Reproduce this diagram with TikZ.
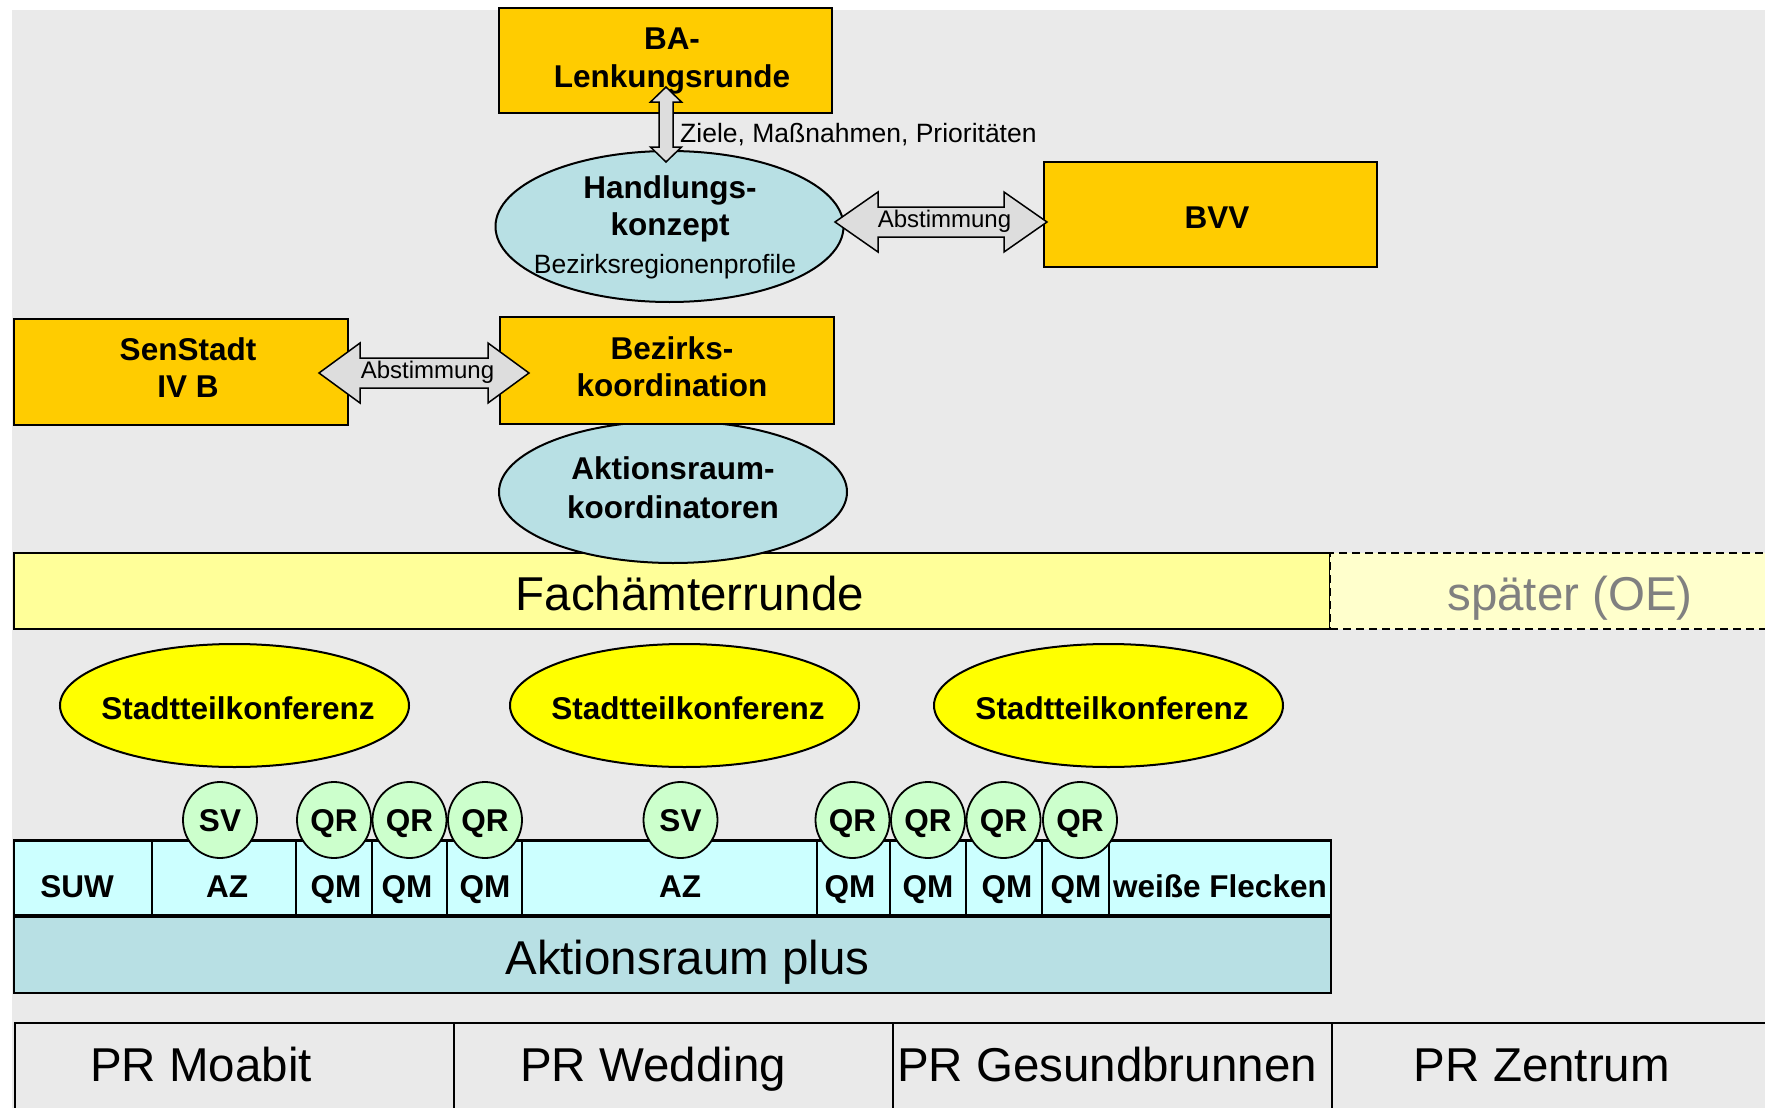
\documentclass[tikz,border=0pt]{standalone}
\usepackage{fontspec}
\setmainfont{Liberation Sans}
\usetikzlibrary{shapes.geometric,calc}
\definecolor{bgc}{HTML}{EAEAEA}
\definecolor{orng}{HTML}{FFCC00}
\definecolor{teal}{HTML}{B8E0E4}
\definecolor{fachc}{HTML}{FFFF99}
\definecolor{spaetc}{HTML}{FFFFCC}
\definecolor{stadtc}{HTML}{FFFF00}
\definecolor{circc}{HTML}{CCFFCC}
\definecolor{stripc}{HTML}{CCFFFF}
\definecolor{arrg}{HTML}{DDDDDD}
\definecolor{greytxt}{HTML}{808080}
\newcommand\fntB{\fontsize{31.5}{38.5}\selectfont\bfseries}
\newcommand\fntL{\fontsize{47.5}{55}\selectfont}
\newcommand\fntS{\fontsize{26.5}{30}\selectfont}
\newcommand\fntA{\fontsize{24}{28}\selectfont}
\begin{document}
\begin{tikzpicture}[x=1pt,y=-1pt,
  box/.style={draw=black,line width=2pt,fill=orng,inner sep=0pt},
  ell/.style={ellipse,draw=black,line width=2pt,inner sep=0pt},
  bar/.style={draw=black,line width=2pt,inner sep=0pt},
  blk/.style={draw=black,line width=1.5pt,fill=arrg,line join=miter},
  cell/.style={draw=black,line width=1.2pt,fill=stripc,minimum height=75pt,inner sep=0pt},
  prcell/.style={draw=black,line width=1.5pt,fill=bgc,minimum height=107pt,inner sep=0pt},
  small/.style={ellipse,draw=black,line width=1.8pt,fill=circc,minimum width=74pt,minimum height=76pt,inner sep=0pt},
  btxt/.style={font=\fntB,inner sep=0pt,anchor=base},
  ltxt/.style={font=\fntL,inner sep=0pt,anchor=base},
  stxt/.style={font=\fntS,inner sep=0pt,anchor=base},
  atxt/.style={font=\fntA,inner sep=0pt,anchor=base}]
\useasboundingbox (0,0) rectangle (1765,1108);
\clip (0,0) rectangle (1765,1108);
\fill[bgc] (12,10) rectangle (1765,1108);

% Planungsraeume
\node[prcell,minimum width=439pt] (pr1) at (234.5,1076.5) {};
\node[prcell,minimum width=439pt] (pr2) at (673.5,1076.5) {};
\node[prcell,minimum width=439pt] (pr3) at (1112.5,1076.5) {};
\node[prcell,minimum width=448pt] (pr4) at (1556,1076.5) {};
\node[ltxt] (prt1) at (201,1081) {PR Moabit};
\node[ltxt] (prt2) at (653,1081) {PR Wedding};
\node[ltxt] (prt3) at (1107,1081) {PR Gesundbrunnen};
\node[ltxt] (prt4) at (1542,1081) {PR Zentrum};

% Fachaemterrunde
\node[bar,fill=fachc,minimum width=1316pt,minimum height=76pt] (fr) at (672,591) {};
\node[ltxt] (frt) at (690,610) {Fachämterrunde};
\node[bar,fill=spaetc,dash pattern=on 8pt off 5pt,line width=1.8pt,minimum width=445pt,minimum height=76pt] (sp) at (1552.5,591) {};
\node[ltxt,text=greytxt] (spt) at (1570,610) {später (OE)};

% Aktionsraumkoordinatoren
\node[ell,fill=teal,minimum width=348pt,minimum height=142pt] (ak) at (673,492) {};
\node[btxt] (akt1) at (673,479.6) {Aktionsraum-};
\node[btxt] (akt2) at (673,518) {koordinatoren};

% Boxes
\node[box,minimum width=333pt,minimum height=105pt] (ba) at (665.5,60.5) {};
\node[btxt] (bat1) at (672,49.6) {BA-};
\node[btxt] (bat2) at (672,88) {Lenkungsrunde};
\node[box,minimum width=333pt,minimum height=105pt] (bvv) at (1210.5,214.5) {};
\node[btxt] (bvvt) at (1217,228.6) {BVV};
\node[box,minimum width=334pt,minimum height=106pt] (sen) at (181,372) {};
\node[btxt] (sent1) at (188,360.3) {SenStadt};
\node[btxt] (sent2) at (188,397.4) {IV B};
\node[box,minimum width=334pt,minimum height=107pt] (bk) at (667,370.5) {};
\node[btxt] (bkt1) at (672,359) {Bezirks-};
\node[btxt] (bkt2) at (672,396.3) {koordination};

% Handlungskonzept
\node[ell,fill=teal,minimum width=348pt,minimum height=151pt] (hk) at (669.5,226.5) {};
\node[btxt] (hkt1) at (670,198) {Handlungs-};
\node[btxt] (hkt2) at (670,235.3) {konzept};
\node[stxt] (hks) at (665,273) {Bezirksregionenprofile};

% vertical double arrow
\coordinate (vt) at (666,87);
\coordinate (vb) at (666,162);
\draw[blk] (vt) -- ++(15.5,15) -- ++(-8.5,0) -- ($(vb)+(7,-15)$) -- ++(8.5,0) -- (vb)
  -- ++(-15.5,-15) -- ++(8.5,0) -- ($(vt)+(-7,15)$) -- ++(-8.5,0) -- cycle;
\node[stxt,anchor=base west] (ziele) at (680,142.3) {Ziele, Maßnahmen, Prioritäten};

% Abstimmung HK - BVV
\coordinate (a1l) at (835,222);
\coordinate (a1r) at (1047,222);
\draw[blk] (a1l) -- ++(43,-30) -- ++(0,15) -- ($(a1r)+(-43,-15)$) -- ++(0,-15) -- (a1r)
  -- ++(-43,30) -- ++(0,-15) -- ($(a1l)+(43,15)$) -- ++(0,15) -- cycle;
\node[atxt] (ab1) at ($(a1l)!0.5!(a1r)+(3.5,5)$) {Abstimmung};

% Abstimmung SenStadt - Bezirkskoordination
\coordinate (a2l) at (319,373);
\coordinate (a2r) at (529,373);
\draw[blk] (a2l) -- ++(41,-30) -- ++(0,15) -- ($(a2r)+(-41,-15)$) -- ++(0,-15) -- (a2r)
  -- ++(-41,30) -- ++(0,-15) -- ($(a2l)+(41,15)$) -- ++(0,15) -- cycle;
\node[atxt] (ab2) at ($(a2l)!0.5!(a2r)+(3.5,5)$) {Abstimmung};

% Stadtteilkonferenzen
\node[ell,fill=stadtc,minimum width=349pt,minimum height=123pt] (st1) at (234.5,705.5) {};
\node[ell,fill=stadtc,minimum width=349pt,minimum height=123pt] (st2) at (684.5,705.5) {};
\node[ell,fill=stadtc,minimum width=349pt,minimum height=123pt] (st3) at (1108.5,705.5) {};
\node[btxt] (stt1) at (238,719) {Stadtteilkonferenz};
\node[btxt] (stt2) at (688,719) {Stadtteilkonferenz};
\node[btxt] (stt3) at (1112,719) {Stadtteilkonferenz};

% strip cells
\node[cell,minimum width=138pt] (c1) at (83,878.5) {};
\node[cell,minimum width=144pt] (c2) at (224,878.5) {};
\node[cell,minimum width=76pt] (c3) at (334,878.5) {};
\node[cell,minimum width=75pt] (c4) at (409.5,878.5) {};
\node[cell,minimum width=75pt] (c5) at (484.5,878.5) {};
\node[cell,minimum width=295pt] (c6) at (669.5,878.5) {};
\node[cell,minimum width=73pt] (c7) at (853.5,878.5) {};
\node[cell,minimum width=76pt] (c8) at (928,878.5) {};
\node[cell,minimum width=76pt] (c9) at (1004,878.5) {};
\node[cell,minimum width=67pt] (c10) at (1075.5,878.5) {};
\node[cell,minimum width=222pt] (c11) at (1220,878.5) {};
\draw[line width=2pt] (c1.north west) -- (c11.north east);

\node[btxt] (t1) at (77,897) {SUW};
\node[btxt] (t2) at (227,897) {AZ};
\node[btxt] (t3) at (336,897) {QM};
\node[btxt] (t4) at (407,897) {QM};
\node[btxt] (t5) at (485,897) {QM};
\node[btxt] (t6) at (680,897) {AZ};
\node[btxt] (t7) at (850,897) {QM};
\node[btxt] (t8) at (928,897) {QM};
\node[btxt] (t9) at (1007,897) {QM};
\node[btxt] (t10) at (1076,897) {QM};
\node[btxt] (t11) at (1220,897) {weiße Flecken};

% circles
\node[small] (sv1) at (220,820) {};
\node[small] (qr1) at (334,820) {};
\node[small] (qr2) at (409.5,820) {};
\node[small] (qr3) at (485,820) {};
\node[small] (sv2) at (680.5,820) {};
\node[small] (qr4) at (852.5,820) {};
\node[small] (qr5) at (928,820) {};
\node[small] (qr6) at (1003.5,820) {};
\node[small] (qr7) at (1080,820) {};
\foreach \n/\t in {sv1/SV,qr1/QR,qr2/QR,qr3/QR,sv2/SV,qr4/QR,qr5/QR,qr6/QR,qr7/QR}
  \node[btxt] (\n t) at ($(\n.center)+(0,11.3)$) {\t};

% Aktionsraum plus
\node[bar,fill=teal,minimum width=1317pt,minimum height=76pt] (arp) at (672.5,955) {};
\draw[line width=3.5pt] (arp.north west) -- (arp.north east);
\node[ltxt] (arpt) at (687.5,974) {Aktionsraum plus};
\end{tikzpicture}
\end{document}
